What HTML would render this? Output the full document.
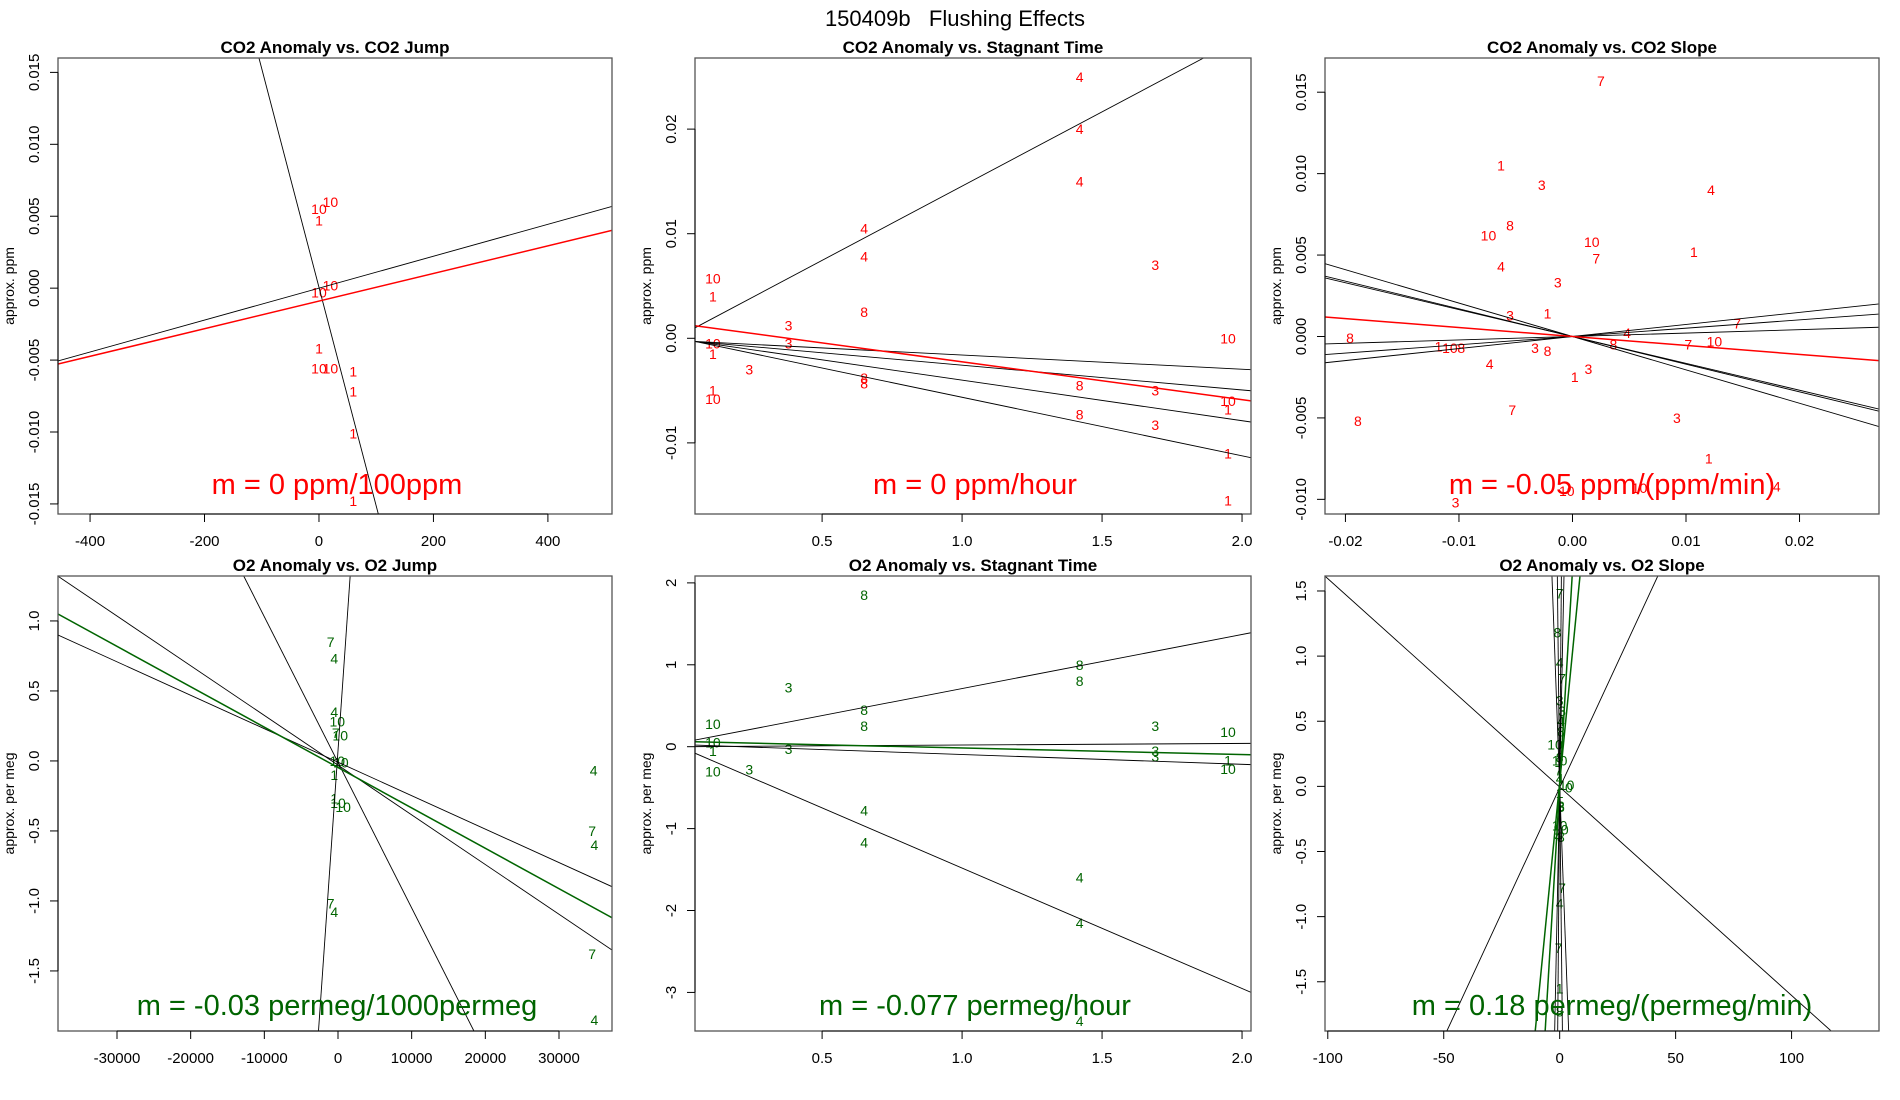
<!DOCTYPE html>
<html><head><meta charset="utf-8"><style>
html,body{margin:0;padding:0;background:#fff;width:1900px;height:1100px;overflow:hidden}
svg{display:block}
svg text{font-family:"Liberation Sans",sans-serif}
</style></head><body>
<svg id="chart" width="1900" height="1100" viewBox="0 0 1900 1100" xmlns="http://www.w3.org/2000/svg">
<text x="955" y="26" font-size="22" text-anchor="middle" xml:space="preserve" style="white-space:pre">150409b   Flushing Effects</text>
</svg>
<script>
// ---- Panel 1: CO2 Anomaly vs CO2 Jump ----
const p1Labels=["10","10","1","10","10","1","10","10","1","1","1","1"];
const p1X=[0,20,0,20,0,0,0,20,60,60,60,60];
const p1Y=[0.0055,0.0060,0.0047,0.0002,-0.0003,-0.0042,-0.0056,-0.0056,-0.0058,-0.0072,-0.0101,-0.0148];
const p1Slopes=[-0.000152,0.0000111,0.0000096];
const p1Intercepts=[0.00006,0.0000,-0.0009];
const p1XTicks=[-400,-200,0,200,400];
const p1YTicks=[-0.015,-0.010,-0.005,0.000,0.005,0.010,0.015];
const p1YTickLabels=["-0.015","-0.010","-0.005","0.000","0.005","0.010","0.015"];
// ---- Panel 2: CO2 Anomaly vs Stagnant Time ----
const p2Labels=["4","4","4","4","4","3","10","1","8","3","3","10","1","3","10","8","8","8","3","10","1","1","10","8","3","1","1"];
const p2X=[1.42,1.42,1.42,0.65,0.65,1.69,0.11,0.11,0.65,0.38,0.38,0.11,0.11,0.24,1.95,0.65,0.65,1.42,1.69,1.95,1.95,0.11,0.11,1.42,1.69,1.95,1.95];
const p2Y=[0.025,0.020,0.015,0.0105,0.0078,0.007,0.0057,0.004,0.0025,0.0012,-0.0005,-0.0005,-0.0015,-0.003,0.0000,-0.0038,-0.0043,-0.0045,-0.005,-0.006,-0.0068,-0.005,-0.0058,-0.0073,-0.0083,-0.011,-0.0155];
const p2Slopes=[0.0142,-0.00136,-0.00237,-0.00388,-0.0056,-0.00362];
const p2Intercepts=[0.00035,-0.00024,-0.0002,-0.00012,-0.00004,0.00137];
const p2XTicks=[0.5,1.0,1.5,2.0];
const p2XTickLabels=["0.5","1.0","1.5","2.0"];
const p2YTicks=[-0.01,0.00,0.01,0.02];
const p2YTickLabels=["-0.01","0.00","0.01","0.02"];
// ---- Panel 3: CO2 Anomaly vs CO2 Slope ----
const p3Labels=["7","1","3","4","8","10","10","7","1","4","3","3","1","7","4","8","1","10","8","3","8","8","7","10","4","1","3","7","8","3","1","4","10","10","3","1"];
const p3X=[0.0025,-0.0063,-0.0027,0.0122,-0.0055,-0.0074,0.0017,0.0021,0.0107,-0.0063,-0.0013,-0.0055,-0.0022,0.0145,0.0048,-0.0196,-0.0118,-0.0108,-0.0098,-0.0033,-0.0022,0.0036,0.0102,0.0125,-0.0073,0.0002,0.0014,-0.0053,-0.0189,0.0092,0.0120,0.0180,-0.0005,0.0059,-0.0103,0.0026];
const p3Y=[0.0157,0.0105,0.0093,0.0090,0.0068,0.0062,0.0058,0.0048,0.0052,0.0043,0.0033,0.0013,0.0014,0.0008,0.0002,-0.0001,-0.0006,-0.0007,-0.0007,-0.0007,-0.0009,-0.0005,-0.0005,-0.0003,-0.0017,-0.0025,-0.0020,-0.0045,-0.0052,-0.0050,-0.0075,-0.0092,-0.0095,-0.0093,-0.0102,-0.0135];
const p3Slopes=[-0.205,-0.170,-0.165,0.074,0.051,0.021,-0.055];
const p3Intercepts=[0.0000,0.0000,0.0000,0.0000,0.0000,0.0000,0.0000];
const p3XTicks=[-0.02,-0.01,0.00,0.01,0.02];
const p3XTickLabels=["-0.02","-0.01","0.00","0.01","0.02"];
const p3YTicks=[-0.010,-0.005,0.000,0.005,0.010,0.015];
const p3YTickLabels=["-0.010","-0.005","0.000","0.005","0.010","0.015"];
// ---- Panel 4: O2 Anomaly vs O2 Jump ----
const p4Labels=["7","4","4","10","7","10","10","10","1","1","10","10","7","4","4","7","4","7","4"];
const p4X=[-1000,-500,-500,-100,-300,300,-100,400,-500,-500,0,700,-1000,-500,34700,34500,34800,34500,34800];
const p4Y=[0.85,0.73,0.35,0.28,0.20,0.18,0.00,-0.01,-0.10,-0.27,-0.30,-0.33,-1.02,-1.08,-0.07,-0.50,-0.60,-1.38,-1.85];
const p4Slopes=[-0.0000239,-0.0000355,-0.000104,0.000756,-0.00002885];
const p4Intercepts=[-0.009,-0.03,-0.01,0.073,-0.047];
const p4XTicks=[-30000,-20000,-10000,0,10000,20000,30000];
const p4YTicks=[-1.5,-1.0,-0.5,0.0,0.5,1.0];
const p4YTickLabels=["-1.5","-1.0","-0.5","0.0","0.5","1.0"];
// ---- Panel 5: O2 Anomaly vs Stagnant Time ----
const p5Labels=["8","3","8","8","8","10","8","3","10","10","1","3","3","3","1","10","10","3","4","4","4","4","4"];
const p5X=[0.65,0.38,1.42,1.42,0.65,0.11,0.65,1.69,1.95,0.11,0.11,0.38,1.69,1.69,1.95,1.95,0.11,0.24,0.65,0.65,1.42,1.42,1.42];
const p5Y=[1.85,0.72,1.00,0.80,0.45,0.28,0.25,0.25,0.18,0.05,-0.05,-0.03,-0.05,-0.12,-0.17,-0.27,-0.30,-0.28,-0.78,-1.17,-1.60,-2.15,-3.35];
const p5Slopes=[0.66,-1.47,0.02,-0.12,-0.08];
const p5Intercepts=[0.05,-0.012,0.0,0.025,0.064];
const p5XTicks=[0.5,1.0,1.5,2.0];
const p5XTickLabels=["0.5","1.0","1.5","2.0"];
const p5YTicks=[-3,-2,-1,0,1,2];
const p5YTickLabels=["-3","-2","-1","0","1","2"];
// ---- Panel 6: O2 Anomaly vs O2 Slope ----
const p6Labels=["7","8","4","7","3","3","4","8","10","8","10","7","4","10","0","1","8","3","10","10","4","3","7","4","7","1","8"];
const p6X=[0,-1,0,1,0,1,0.5,0.5,-2,0,0,-0.5,0,3,4,0,0.5,0.5,0,0.5,-0.5,0.5,1,0,-0.5,0,0];
const p6Y=[1.48,1.18,0.95,0.83,0.66,0.58,0.50,0.42,0.32,0.22,0.20,0.12,0.06,0.01,-0.01,-0.05,-0.15,-0.16,-0.30,-0.33,-0.38,-0.39,-0.78,-0.90,-1.24,-1.55,-1.73];
const p6Slopes=[-0.016,0.0384,-0.485,0.87,-1.6,2.2,0.181,0.30];
const p6Intercepts=[-0.005,-0.01,0.0,0.0,0.0,0.0,0.03,0.0];
const p6LineColors=["#000","#000","#000","#000","#000","#000","#006400","#006400"];
const p6XTicks=[-100,-50,0,50,100];
const p6YTicks=[-1.5,-1.0,-0.5,0.0,0.5,1.0,1.5];
const p6YTickLabels=["-1.5","-1.0","-0.5","0.0","0.5","1.0","1.5"];

const NS="http://www.w3.org/2000/svg";
const svg=document.getElementById('chart');
function mk(tag,attrs,parent){const e=document.createElementNS(NS,tag);for(const k in attrs)e.setAttribute(k,attrs[k]);(parent||svg).appendChild(e);return e;}

function panel(cfg){
  const g=mk('g',{});
  
  
  const L=cfg.box[0],T=cfg.box[1],R=cfg.box[2],B=cfg.box[3];
  const sx=v=>L+(v-cfg.xd[0])/(cfg.xd[1]-cfg.xd[0])*(R-L);
  const sy=v=>B-(v-cfg.yd[0])/(cfg.yd[1]-cfg.yd[0])*(B-T);
  const t=mk('text',{x:(L+R)/2,y:T-5,'font-size':17,'font-weight':'bold','text-anchor':'middle'},g);
  t.textContent=cfg.title;
  
  
  const cid='clip'+cfg.id;
  const cp=mk('clipPath',{id:cid},g);mk('rect',{x:L,y:T,width:R-L,height:B-T},cp);
  const plot=mk('g',{'clip-path':'url(#'+cid+')'},g);
  cfg.px.forEach((xv,i)=>{
    const e=mk('text',{x:sx(xv),y:sy(cfg.py[i])+5,'font-size':14,fill:cfg.col,'text-anchor':'middle'},plot);
    e.textContent=cfg.pl[i];
    
    
  });
  cfg.sl.forEach((m,i)=>{
    const b=cfg.ic[i];
    let x0=cfg.xd[0],x1=cfg.xd[1];
    const y0=cfg.yd[0],y1=cfg.yd[1];
    if(m!==0){
      const xa=(y0-b)/m,xb=(y1-b)/m;
      const lo=Math.min(xa,xb),hi=Math.max(xa,xb);
      x0=Math.max(x0,lo);x1=Math.min(x1,hi);
    }
    if(x1<=x0)return;
    const c=cfg.lc?cfg.lc[i]:(i===cfg.sl.length-1?cfg.col:'#000');
    const e=mk('line',{x1:sx(x0),y1:sy(m*x0+b),x2:sx(x1),y2:sy(m*x1+b),stroke:c,'stroke-width':c==='#000'?0.9:1.5},plot);
    
    
  });
  const a=mk('text',{x:cfg.ann[1],y:cfg.ann[2],'font-size':29,fill:cfg.col,'text-anchor':'middle'},g);
  a.textContent=cfg.ann[0];
  
  
  const f=mk('rect',{x:L,y:T,width:R-L,height:B-T,fill:'none',stroke:'#555','stroke-width':1.3},g);
  
  
  const xa=mk('g',{},g);
  
  
  const xt=cfg.xt;
  mk('line',{x1:sx(xt[0]),y1:B,x2:sx(xt[xt.length-1]),y2:B,stroke:'#000'},xa);
  xt.forEach((v,i)=>{
    mk('line',{x1:sx(v),y1:B,x2:sx(v),y2:B+8,stroke:'#000'},xa);
    const e=mk('text',{x:sx(v),y:B+32,'font-size':15,'text-anchor':'middle'},xa);
    e.textContent=cfg.xtl?cfg.xtl[i]:String(v);
    
    
  });
  const ya=mk('g',{},g);
  
  
  const yt=cfg.yt;
  mk('line',{x1:L,y1:sy(yt[0]),x2:L,y2:sy(yt[yt.length-1]),stroke:'#000'},ya);
  yt.forEach((v,i)=>{
    mk('line',{x1:L,y1:sy(v),x2:L-8,y2:sy(v),stroke:'#000'},ya);
    const tx=L-19,ty=sy(v);
    const e=mk('text',{x:tx,y:ty,'font-size':15,'text-anchor':'middle',transform:`rotate(-90 ${tx} ${ty})`},ya);
    e.textContent=cfg.ytl[i];
    
    
  });
  const yx=L-44,yy=(T+B)/2;
  const yl=mk('text',{x:yx,y:yy,'font-size':14,'text-anchor':'middle',transform:`rotate(-90 ${yx} ${yy})`},g);
  yl.textContent=cfg.ylab;
  
  
}
const RED='#ff0000',GRN='#006400';
const R1=[58,514],R2=[576,1031];
const C1=[58,612],C2=[695,1251],C3=[1325,1879];
panel({id:1,name:'panel-co2-vs-co2-jump',title:'CO2 Anomaly vs. CO2 Jump',box:[C1[0],R1[0],C1[1],R1[1]],xd:[-456,512],yd:[-0.0157,0.0160],
  px:p1X,py:p1Y,pl:p1Labels,sl:p1Slopes,ic:p1Intercepts,col:RED,xt:p1XTicks,yt:p1YTicks,ytl:p1YTickLabels,ylab:'approx. ppm',ann:['m = 0 ppm/100ppm',337,494]});
panel({id:2,name:'panel-co2-vs-stagnant-time',title:'CO2 Anomaly vs. Stagnant Time',box:[C2[0],R1[0],C2[1],R1[1]],xd:[0.046,2.032],yd:[-0.0168,0.0268],
  px:p2X,py:p2Y,pl:p2Labels,sl:p2Slopes,ic:p2Intercepts,col:RED,xt:p2XTicks,xtl:p2XTickLabels,yt:p2YTicks,ytl:p2YTickLabels,ylab:'approx. ppm',ann:['m = 0 ppm/hour',975,494]});
panel({id:3,name:'panel-co2-vs-co2-slope',title:'CO2 Anomaly vs. CO2 Slope',box:[C3[0],R1[0],C3[1],R1[1]],xd:[-0.0218,0.0270],yd:[-0.0109,0.0171],
  px:p3X,py:p3Y,pl:p3Labels,sl:p3Slopes,ic:p3Intercepts,col:RED,xt:p3XTicks,xtl:p3XTickLabels,yt:p3YTicks,ytl:p3YTickLabels,ylab:'approx. ppm',ann:['m = -0.05 ppm/(ppm/min)',1612,494]});
panel({id:4,name:'panel-o2-vs-o2-jump',title:'O2 Anomaly vs. O2 Jump',box:[C1[0],R2[0],C1[1],R2[1]],xd:[-38009,37195],yd:[-1.929,1.321],
  px:p4X,py:p4Y,pl:p4Labels,sl:p4Slopes,ic:p4Intercepts,col:GRN,xt:p4XTicks,yt:p4YTicks,ytl:p4YTickLabels,ylab:'approx. per meg',ann:['m = -0.03 permeg/1000permeg',337,1015]});
panel({id:5,name:'panel-o2-vs-stagnant-time',title:'O2 Anomaly vs. Stagnant Time',box:[C2[0],R2[0],C2[1],R2[1]],xd:[0.046,2.032],yd:[-3.471,2.084],
  px:p5X,py:p5Y,pl:p5Labels,sl:p5Slopes,ic:p5Intercepts,col:GRN,xt:p5XTicks,xtl:p5XTickLabels,yt:p5YTicks,ytl:p5YTickLabels,ylab:'approx. per meg',ann:['m = -0.077 permeg/hour',975,1015]});
panel({id:6,name:'panel-o2-vs-o2-slope',title:'O2 Anomaly vs. O2 Slope',box:[C3[0],R2[0],C3[1],R2[1]],xd:[-101.2,137.7],yd:[-1.878,1.615],
  px:p6X,py:p6Y,pl:p6Labels,sl:p6Slopes,ic:p6Intercepts,lc:p6LineColors,col:GRN,xt:p6XTicks,yt:p6YTicks,ytl:p6YTickLabels,ylab:'approx. per meg',ann:['m = 0.18 permeg/(permeg/min)',1612,1015]});
</script>
</body></html>
